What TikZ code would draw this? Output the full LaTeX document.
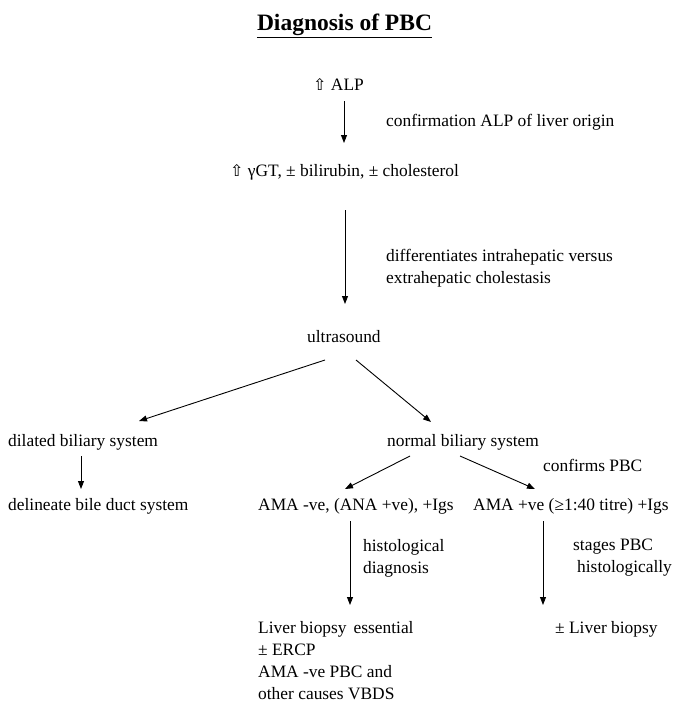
\documentclass[tikz,border=0pt]{standalone}
\usepackage{fontspec}
\setmainfont{Liberation Serif}
\newfontfamily\symfont{DejaVu Sans}
\usetikzlibrary{arrows.meta}
\newcommand{\upar}{{\symfont\fontsize{16}{18}\selectfont ⇧}}
\tikzset{
  txt/.style={anchor=base west, inner sep=0pt, font=\fontsize{17.4}{22}\selectfont, align=left},
  mtxt/.style={txt, anchor=north west},
  arr/.style={line width=0.9pt, -{Triangle[length=8pt,width=6pt]}},
  ttl/.style={anchor=base, inner sep=0pt, font=\bfseries\fontsize{23.5}{26}\selectfont}
}
\begin{document}
\begin{tikzpicture}[x=1pt,y=-1pt]
\useasboundingbox (0,0) rectangle (682,702);
% title
\node[ttl] (title) at (344.5,30) {Diagnosis of PBC};
\draw[line width=1.6pt] (title.base west) ++(0,7.5) -- ([yshift=-7.5pt]title.base east);
% top chain
\node[txt] (alp) at (313,90) {\upar\ ALP};
\node[txt] (lab1) at (386,126) {confirmation ALP of liver origin};
\node[txt] (ggt) at (230,176) {\upar\ γGT, ± bilirubin, ± cholesterol};
\node[mtxt] (lab2) at (386,249) {differentiates intrahepatic versus\\extrahepatic cholestasis};
\node[txt] (us) at (307,342) {ultrasound};
% second level
\node[txt] (dil) at (8,446) {dilated biliary system};
\node[txt] (del) at (8,510) {delineate bile duct system};
\node[txt] (norm) at (387,446) {normal biliary system};
\node[txt] (lab3) at (543,471) {confirms PBC};
\node[txt] (neg) at (258,510) {AMA -ve, (ANA +ve), +Igs};
\node[txt] (pos) at (473,510) {AMA +ve (≥1:40 titre) +Igs};
\node[mtxt] (lab4) at (363,539) {histological\\diagnosis};
\node[mtxt] (lab5) at (573,539) {stages PBC\\\hspace*{4pt}histologically};
\node[mtxt] (lbe) at (258,621) {Liver biopsy\hspace{7pt}essential\\± ERCP\\AMA -ve PBC and\\other causes VBDS};
\node[txt] (lb) at (555,633) {± Liver biopsy};
% connector endpoints
\coordinate (a1s) at (344,101); \coordinate (a1e) at (344,143);
\coordinate (a2s) at (345,210); \coordinate (a2e) at (345,304);
\coordinate (a3s) at (325,360); \coordinate (a3e) at (139,421);
\coordinate (a4s) at (356,360); \coordinate (a4e) at (431,422);
\coordinate (a5s) at (81,456); \coordinate (a5e) at (81,489);
\coordinate (a6s) at (410,456); \coordinate (a6e) at (345,489);
\coordinate (a7s) at (460,456); \coordinate (a7e) at (535,489);
\coordinate (a8s) at (350,521); \coordinate (a8e) at (350,605);
\coordinate (a9s) at (543,521); \coordinate (a9e) at (543,605);
\draw[arr] (a1s) -- (a1e);
\draw[arr] (a2s) -- (a2e);
\draw[arr] (a3s) -- (a3e);
\draw[arr] (a4s) -- (a4e);
\draw[arr] (a5s) -- (a5e);
\draw[arr] (a6s) -- (a6e);
\draw[arr] (a7s) -- (a7e);
\draw[arr] (a8s) -- (a8e);
\draw[arr] (a9s) -- (a9e);
\end{tikzpicture}
\end{document}
